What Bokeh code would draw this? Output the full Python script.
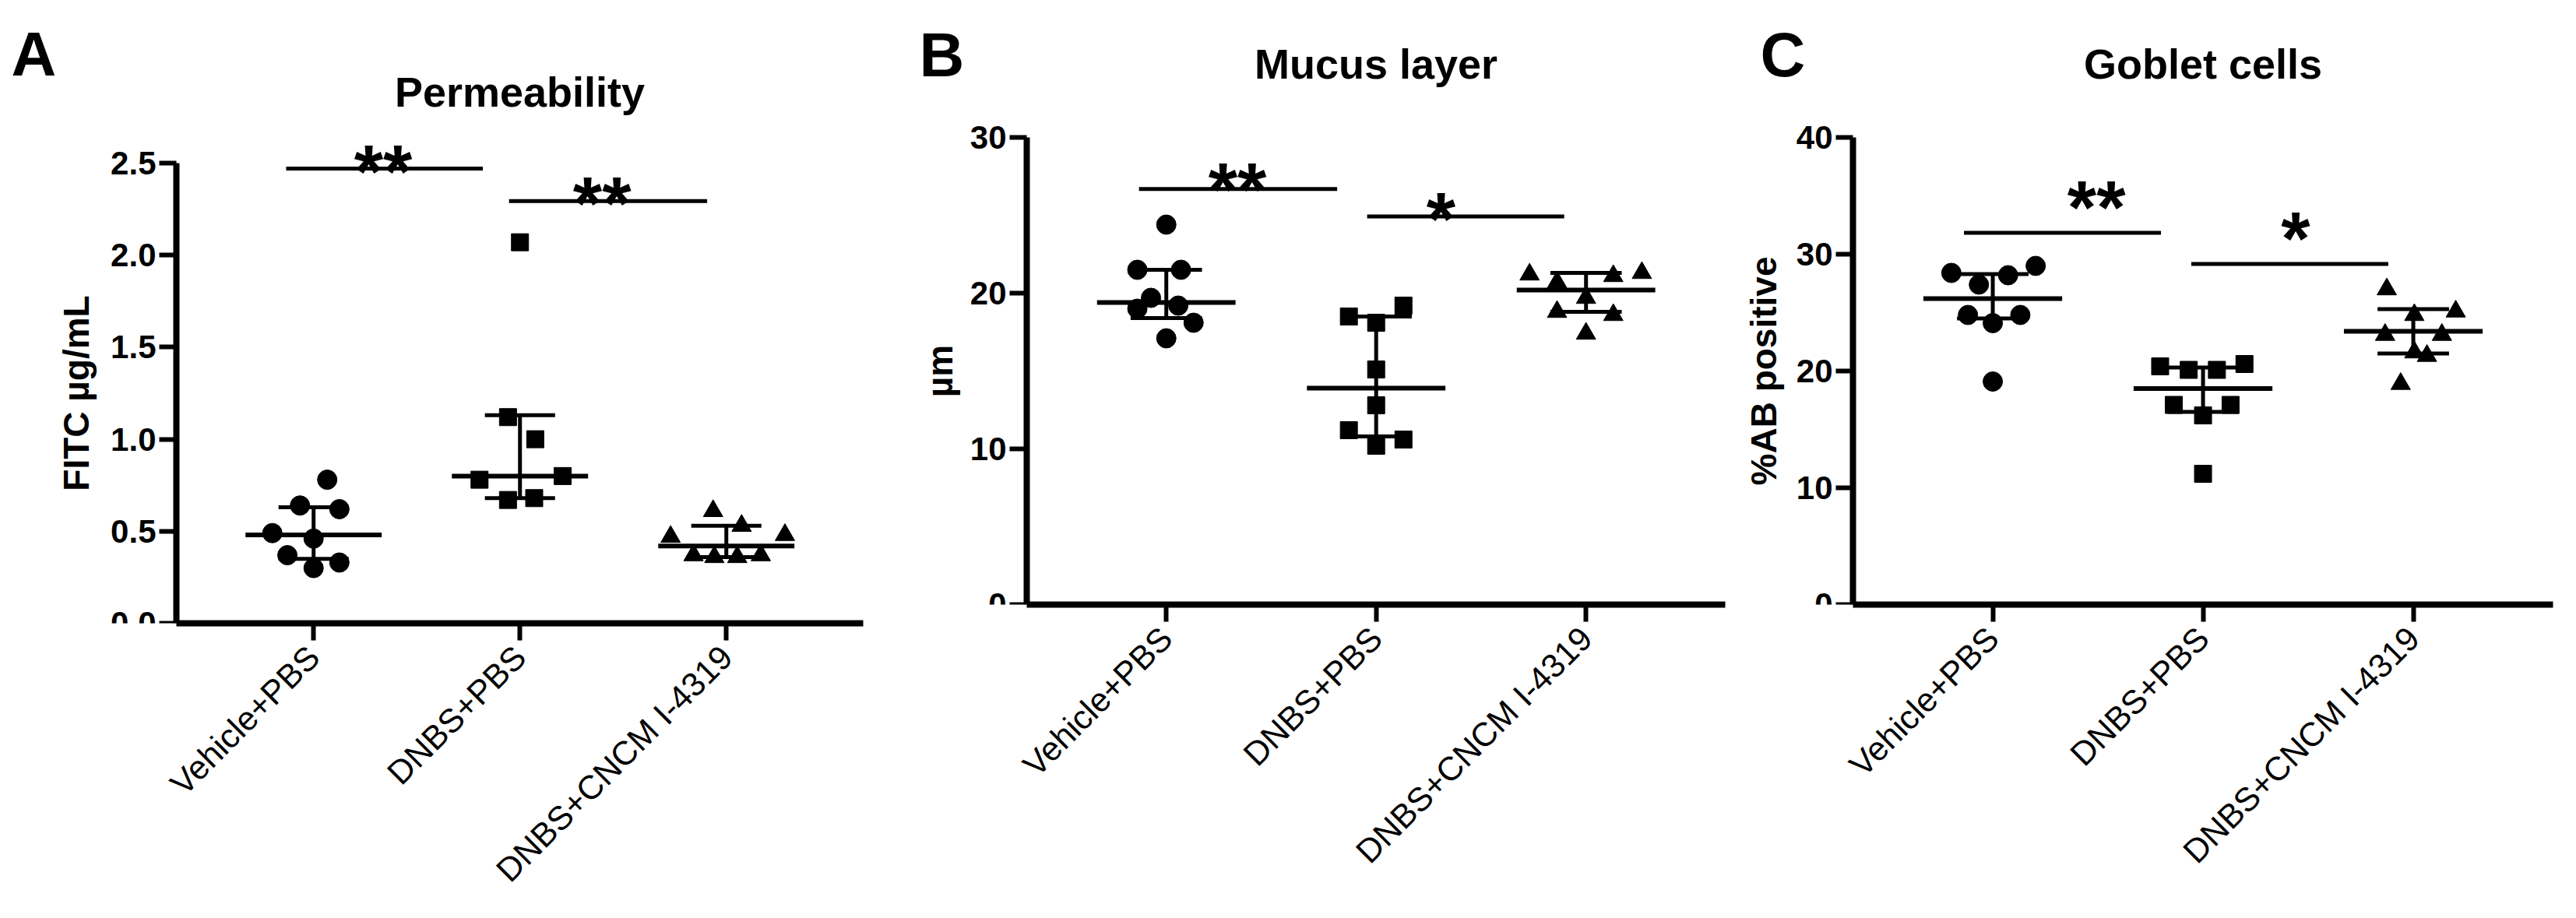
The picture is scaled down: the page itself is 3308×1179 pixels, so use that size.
import math
from bokeh.plotting import figure
from bokeh.layouts import row
from bokeh.models import Range1d, FixedTicker, Label, PrintfTickFormatter
from bokeh.embed import file_html
from bokeh.resources import INLINE

# ---------------- data ----------------
categories = ["Vehicle+PBS", "DNBS+PBS", "DNBS+CNCM I-4319"]

# Panel A: Permeability (FITC µg/mL)
perm_vehicle = [0.78, 0.64, 0.62, 0.49, 0.46, 0.37, 0.33, 0.30]
perm_dnbs = [2.07, 1.12, 1.00, 0.78, 0.80, 0.67, 0.68]
perm_cncm = [0.61, 0.53, 0.47, 0.48, 0.37, 0.36, 0.36, 0.37]
perm_median = [0.48, 0.80, 0.42]
perm_q1 = [0.35, 0.68, 0.36]
perm_q3 = [0.63, 1.13, 0.53]

# Panel B: Mucus layer (µm)
mucus_vehicle = [24.4, 21.5, 21.5, 19.7, 19.2, 19.0, 18.1, 17.1]
mucus_dnbs = [19.2, 18.5, 18.1, 15.1, 12.8, 11.2, 10.6, 10.2]
mucus_cncm = [21.2, 21.3, 20.7, 21.1, 19.7, 18.8, 18.6, 17.4]
mucus_median = [19.4, 13.9, 20.2]
mucus_q1 = [18.4, 10.8, 18.8]
mucus_q3 = [21.5, 18.5, 21.3]

# Panel C: Goblet cells (%AB positive)
goblet_vehicle = [29.0, 28.4, 28.2, 27.4, 24.8, 24.8, 24.1, 19.1]
goblet_dnbs = [20.6, 20.4, 20.1, 20.1, 17.1, 17.1, 16.2, 11.2]
goblet_cncm = [27.0, 25.1, 24.8, 23.1, 23.1, 21.6, 21.3, 18.9]
goblet_median = [26.2, 18.5, 23.4]
goblet_q1 = [24.5, 16.5, 21.5]
goblet_q3 = [28.3, 20.3, 25.3]

# significance annotations: (label, bar height)
perm_sig = [("**", 2.47), ("**", 2.294)]
mucus_sig = [("**", 26.69), ("*", 24.93)]
goblet_sig = [("**", 31.83), ("*", 29.16)]

# y ticks
perm_ticks = [0.0, 0.5, 1.0, 1.5, 2.0, 2.5]
mucus_ticks = [0, 10, 20, 30]
goblet_ticks = [0, 10, 20, 30, 40]

# ---------------- layout / style (not data) ----------------
perm_offsets = [
    [0.066, -0.066, 0.125, -0.20, 0.0, -0.127, 0.125, 0.0],
    [0.0, -0.058, 0.074, -0.196, 0.207, -0.058, 0.069],
    [-0.064, 0.074, -0.27, 0.284, -0.159, -0.058, 0.053, 0.167],
]
mucus_offsets = [
    [0.0, -0.138, 0.07, -0.073, 0.057, -0.138, 0.13, 0.0],
    [0.13, -0.13, 0.0, 0.0, 0.0, -0.13, 0.13, 0.0],
    [-0.269, 0.266, -0.138, 0.13, 0.0, -0.138, 0.13, 0.0],
]
goblet_offsets = [
    [0.204, -0.197, 0.073, -0.066, -0.118, 0.131, 0.0, 0.0],
    [0.197, -0.204, -0.068, 0.066, -0.139, 0.131, 0.0, 0.0],
    [-0.126, 0.202, 0.005, -0.134, 0.136, 0.005, 0.065, -0.06],
]
# bar extents (category units), star x, star centre height above bar (px)
perm_sig_geom = [(-0.133, 0.82, 0.337, 17), (0.947, 1.907, 1.398, 17)]
mucus_sig_geom = [(-0.13, 0.814, 0.339, 20), (0.957, 1.896, 1.309, 17)]
goblet_sig_geom = [(-0.137, 0.80, 0.493, 53), (0.944, 1.881, 1.44, 53)]

FONT = "Liberation Sans"
MARKERS = [("circle", 25), ("square", 22), ("triangle", 25)]
X0 = -0.665          # left end of the axes (category units)
TOTAL_H = 1163
STAR_SIZE = 96       # a bold size of exactly 100/200/...px breaks the SVG font parser


def label(p, x, y, text, size, angle=0.0, align="center", baseline="middle"):
    p.add_layout(Label(x=x, y=y, text=text, angle=angle, text_align=align,
                       text_baseline=baseline, text_font=FONT,
                       text_font_style="bold", text_font_size=f"{size}px",
                       text_color="black"))


def make_panel(letter, title, ylabel, groups, offsets, med, q1, q3, yticks, yfmt,
               sig, sig_geom, W, axis_px, ppu_x, plot_w, top_px, bottom_px,
               letter_dx, letter_dy, title_dy, ylabel_dx):
    ymax = yticks[-1]
    plot_h = bottom_px - top_px
    ppu_y = plot_h / ymax
    X1 = X0 + plot_w / ppu_x
    # the frame covers the whole panel; the axes are pinned at X0 / y=0
    xr = Range1d(X0 - axis_px / ppu_x, X0 + (W - axis_px) / ppu_x)
    yr = Range1d(0, ymax + top_px / ppu_y)
    p = figure(frame_width=W, frame_height=bottom_px,
               min_border_left=0, min_border_right=0, min_border_top=0,
               min_border_bottom=TOTAL_H - bottom_px,
               x_range=xr, y_range=yr, title=None, align="start",
               output_backend="svg", toolbar_location=None)
    p.outline_line_color = None
    p.xgrid.visible = False
    p.ygrid.visible = False
    p.background_fill_color = "white"
    p.border_fill_color = "white"

    for ax in (p.xaxis[0], p.yaxis[0]):
        ax.axis_line_width = 8
        ax.axis_line_color = "black"
        ax.major_tick_line_width = 6
        ax.major_tick_line_color = "black"
        ax.major_tick_out = 22
        ax.major_tick_in = 0
        ax.minor_tick_line_color = None
    yax = p.yaxis[0]
    yax.fixed_location = X0
    yax.bounds = (0, ymax)
    yax.ticker = FixedTicker(ticks=yticks)
    yax.formatter = PrintfTickFormatter(format=yfmt)
    yax.major_label_text_font = FONT
    yax.major_label_text_font_style = "bold"
    yax.major_label_text_font_size = "42px"
    yax.major_label_text_color = "black"
    yax.major_label_standoff = 4

    xax = p.xaxis[0]
    xax.bounds = (X0, X1)
    xax.ticker = FixedTicker(ticks=[0, 1, 2])
    xax.major_label_overrides = {i: c for i, c in enumerate(categories)}
    xax.major_label_orientation = math.pi / 4
    xax.major_label_text_font = FONT
    xax.major_label_text_font_size = "43px"
    xax.major_label_text_color = "black"
    xax.major_label_standoff = 14

    # median with interquartile range
    for i in range(3):
        p.segment(x0=[i - 0.33], y0=[med[i]], x1=[i + 0.33], y1=[med[i]],
                  line_width=6, line_color="black")
        p.segment(x0=[i, i - 0.17, i - 0.17], y0=[q1[i], q1[i], q3[i]],
                  x1=[i, i + 0.17, i + 0.17], y1=[q3[i], q1[i], q3[i]],
                  line_width=5, line_color="black")

    # individual values
    for i, (vals, offs) in enumerate(zip(groups, offsets)):
        mk, sz = MARKERS[i]
        xs = [i + o for o in offs]
        p.scatter(xs, vals, marker=mk, size=sz, color="black")

    # significance bars and stars
    for (t, yb), (xa, xb, xs_, dy) in zip(sig, sig_geom):
        p.segment(x0=[xa], y0=[yb], x1=[xb], y1=[yb], line_width=5, line_color="black")
        ycen = yb + dy / ppu_y
        label(p, xs_, ycen - 0.76 * STAR_SIZE / ppu_y, t, STAR_SIZE, baseline="bottom")

    # y-axis title, panel title and panel letter
    label(p, X0 + ylabel_dx / ppu_x, ymax / 2, ylabel, 46, angle=math.pi / 2)
    label(p, (X0 + X1) / 2, ymax + title_dy / ppu_y, title, 54)
    label(p, X0 + letter_dx / ppu_x, ymax + letter_dy / ppu_y, letter, 80)
    return p


pA = make_panel("A", "Permeability", "FITC µg/mL",
                [perm_vehicle, perm_dnbs, perm_cncm], perm_offsets,
                perm_median, perm_q1, perm_q3, perm_ticks, "%.1f",
                perm_sig, perm_sig_geom,
                W=1120, axis_px=226, ppu_x=265, plot_w=882, top_px=209, bottom_px=800,
                letter_dx=-183, letter_dy=140, title_dy=92, ylabel_dx=-129)
pB = make_panel("B", "Mucus layer", "µm",
                [mucus_vehicle, mucus_dnbs, mucus_cncm], mucus_offsets,
                mucus_median, mucus_q1, mucus_q3, mucus_ticks, "%d",
                mucus_sig, mucus_sig_geom,
                W=1105, axis_px=198, ppu_x=269.5, plot_w=897, top_px=176, bottom_px=776,
                letter_dx=-109, letter_dy=106, title_dy=95, ylabel_dx=-112)
pC = make_panel("C", "Goblet cells", "%AB positive",
                [goblet_vehicle, goblet_dnbs, goblet_cncm], goblet_offsets,
                goblet_median, goblet_q1, goblet_q3, goblet_ticks, "%d",
                goblet_sig, goblet_sig_geom,
                W=1067, axis_px=154, ppu_x=270, plot_w=899, top_px=176, bottom_px=776,
                letter_dx=-90, letter_dy=106, title_dy=95, ylabel_dx=-115)

layout = row(pA, pB, pC, align="start")
open("out.html", "w").write(file_html(layout, INLINE))
